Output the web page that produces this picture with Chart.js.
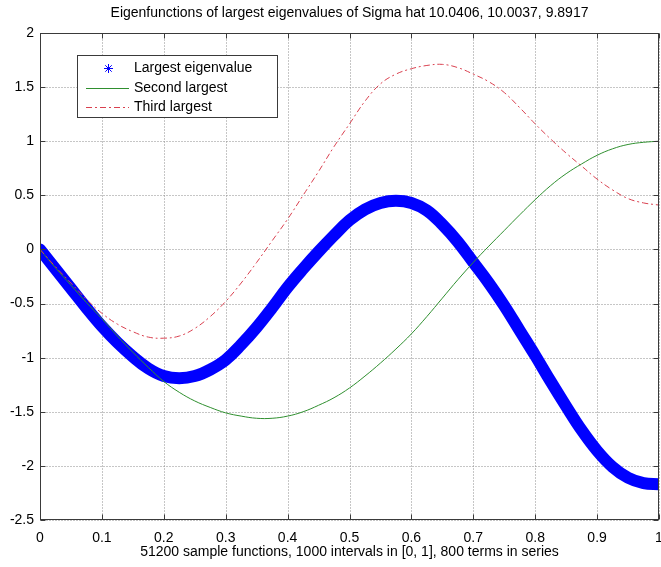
<!DOCTYPE html>
<html><head><meta charset="utf-8">
<script src="https://cdn.jsdelivr.net/npm/chart.js@4.4.1/dist/chart.umd.min.js"></script>
<style>html,body{margin:0;padding:0;background:#fff;}canvas{display:block;}</style>
</head><body>
<canvas id="c" width="661" height="567"></canvas>
<script>
const titleText = 'Eigenfunctions of largest eigenvalues of Sigma hat 10.0406, 10.0037, 9.8917';
const xAxisTitle = '51200 sample functions, 1000 intervals in [0, 1], 800 terms in series';
const seriesNames = ['Largest eigenvalue', 'Second largest', 'Third largest'];

const xValues = [0,0.025,0.05,0.075,0.1,0.125,0.15,0.175,0.2,0.225,0.25,0.275,0.3,0.325,0.35,0.375,0.4,0.425,0.45,0.475,0.5,0.525,0.55,0.575,0.6,0.625,0.65,0.675,0.7,0.725,0.75,0.775,0.8,0.825,0.85,0.875,0.9,0.925,0.95,0.975,1];
const largest = [0,-0.18,-0.36,-0.54,-0.71,-0.86,-0.99,-1.10,-1.17,-1.19,-1.17,-1.11,-1.02,-0.88,-0.72,-0.54,-0.35,-0.18,-0.02,0.13,0.27,0.37,0.43,0.45,0.43,0.36,0.23,0.07,-0.12,-0.31,-0.52,-0.75,-0.98,-1.22,-1.45,-1.67,-1.86,-2.01,-2.11,-2.16,-2.17];
const second  = [0,-0.17,-0.33,-0.49,-0.64,-0.80,-0.95,-1.09,-1.22,-1.32,-1.40,-1.46,-1.51,-1.54,-1.56,-1.56,-1.54,-1.50,-1.44,-1.37,-1.28,-1.17,-1.05,-0.92,-0.78,-0.62,-0.45,-0.28,-0.12,0.03,0.175,0.32,0.46,0.59,0.70,0.79,0.87,0.93,0.97,0.99,1.0];
const third   = [0,-0.16,-0.31,-0.46,-0.59,-0.69,-0.76,-0.81,-0.82,-0.80,-0.73,-0.62,-0.48,-0.31,-0.12,0.08,0.28,0.50,0.72,0.95,1.16,1.37,1.53,1.62,1.67,1.70,1.71,1.68,1.62,1.55,1.45,1.31,1.16,1.02,0.89,0.77,0.65,0.55,0.47,0.43,0.41];

const xTickLabels = ['0','0.1','0.2','0.3','0.4','0.5','0.6','0.7','0.8','0.9','1'];
const yTickLabels = ['-2.5','-2','-1.5','-1','-0.5','0','0.5','1','1.5','2'];

const FONT = '"Liberation Sans", Arial, sans-serif';
const BLUE = '#0000ff', GREEN = '#2f8f2f', RED = '#d9404f';
const RED_DASH = [6,3,2,3];

function pts(xa, ya){ return xa.map((x,i)=>({x:x, y:ya[i]})); }

function drawStar(ctx, x, y, r){
  ctx.beginPath();
  ctx.moveTo(x-r,y); ctx.lineTo(x+r,y);
  ctx.moveTo(x,y-r); ctx.lineTo(x,y+r);
  const d = r*0.72;
  ctx.moveTo(x-d,y-d); ctx.lineTo(x+d,y+d);
  ctx.moveTo(x-d,y+d); ctx.lineTo(x+d,y-d);
  ctx.stroke();
}

function edges(a){
  return { L: Math.round(a.left)+0.5, R: Math.round(a.right)-0.5, T: Math.round(a.top)+0.5, B: Math.round(a.bottom)-0.5 };
}

const matlabPlugin = {
  id: 'matlab',
  beforeDatasetsDraw(chart){
    const ctx = chart.ctx, e = edges(chart.chartArea);
    const xs = chart.scales.x, ys = chart.scales.y;
    ctx.save();
    ctx.strokeStyle = '#8c8c8c'; ctx.lineWidth = 1; ctx.setLineDash([1,2]);
    ctx.beginPath();
    xs.ticks.forEach(t=>{
      const px = Math.round(xs.getPixelForValue(t.value))+0.5;
      ctx.moveTo(px, e.T); ctx.lineTo(px, e.B);
    });
    ys.ticks.forEach(t=>{
      const py = Math.round(ys.getPixelForValue(t.value))+0.5;
      ctx.moveTo(e.L, py); ctx.lineTo(e.R, py);
    });
    ctx.stroke();
    ctx.restore();
  },
  afterDraw(chart){
    const ctx = chart.ctx, e = edges(chart.chartArea), a = chart.chartArea;
    const xs = chart.scales.x, ys = chart.scales.y;
    const {L,R,T,B} = e;
    ctx.save();
    ctx.strokeStyle = '#3a3a3a'; ctx.lineWidth = 1; ctx.setLineDash([]);
    ctx.strokeRect(L, T, R-L, B-T);
    ctx.beginPath();
    xs.ticks.forEach(t=>{
      const px = Math.round(xs.getPixelForValue(t.value))+0.5;
      ctx.moveTo(px,B); ctx.lineTo(px,B-5);
      ctx.moveTo(px,T); ctx.lineTo(px,T+5);
    });
    ys.ticks.forEach(t=>{
      const py = Math.round(ys.getPixelForValue(t.value))+0.5;
      ctx.moveTo(L,py); ctx.lineTo(L+5,py);
      ctx.moveTo(R,py); ctx.lineTo(R-5,py);
    });
    ctx.stroke();
    ctx.fillStyle = '#000';
    ctx.font = '14px ' + FONT;
    ctx.textAlign = 'center'; ctx.textBaseline = 'middle';
    ctx.fillText(titleText, (a.left+a.right)/2, 13);
    const bx = 77.5, by = 55.5, bw = 200, bh = 62;
    ctx.fillStyle = '#fff';
    ctx.fillRect(bx, by, bw, bh);
    ctx.strokeStyle = '#3a3a3a';
    ctx.strokeRect(bx, by, bw, bh);
    const rows = [68, 88, 107];
    ctx.strokeStyle = BLUE; ctx.lineWidth = 1;
    drawStar(ctx, 108.5, rows[0]+0.5, 4.5);
    ctx.strokeStyle = GREEN;
    ctx.beginPath(); ctx.moveTo(86, rows[1]+0.5); ctx.lineTo(129, rows[1]+0.5); ctx.stroke();
    ctx.strokeStyle = RED; ctx.setLineDash(RED_DASH);
    ctx.beginPath(); ctx.moveTo(86, rows[2]+0.5); ctx.lineTo(129, rows[2]+0.5); ctx.stroke();
    ctx.setLineDash([]);
    ctx.fillStyle = '#000'; ctx.textAlign = 'left'; ctx.textBaseline = 'middle';
    seriesNames.forEach((n,i)=>ctx.fillText(n, 134, rows[i]+0.5));
    ctx.restore();
  }
};

new Chart(document.getElementById('c'), {
  type: 'line',
  data: {
    datasets: [
      { label: seriesNames[0], data: pts(xValues, largest), borderColor: BLUE, backgroundColor: BLUE,
        borderWidth: 12, pointRadius: 0, pointStyle: 'star', tension: 0.4, borderCapStyle: 'round', borderJoinStyle: 'round', order: 3 },
      { label: seriesNames[1], data: pts(xValues, second), borderColor: GREEN, borderWidth: 1, pointRadius: 0, tension: 0.4, order: 2 },
      { label: seriesNames[2], data: pts(xValues, third), borderColor: RED, borderWidth: 1, pointRadius: 0, tension: 0.4, borderDash: RED_DASH, order: 1 }
    ]
  },
  options: {
    responsive: false, animation: false, devicePixelRatio: 1,
    layout: { padding: { top: 33, right: 2, left: 0, bottom: 0 } },
    plugins: { legend: { display: false }, tooltip: { enabled: false }, title: { display: false } },
    scales: {
      x: {
        type: 'linear', min: 0, max: 1,
        ticks: { stepSize: 0.1, padding: 10, color: '#000', font: { family: FONT, size: 14 }, maxRotation: 0, autoSkip: false,
                 callback: (v, i) => xTickLabels[i] },
        grid: { display: false, drawTicks: false, tickLength: 0 },
        border: { display: false },
        title: { display: true, text: xAxisTitle, color: '#000', font: { family: FONT, size: 14 }, padding: { top: 0, bottom: 6 } },
        afterFit: s => { s.height = 47; s.paddingLeft = 0; s.paddingRight = 0; }
      },
      y: {
        type: 'linear', min: -2.5, max: 2,
        ticks: { stepSize: 0.5, padding: 6, color: '#000', font: { family: FONT, size: 14 }, autoSkip: false,
                 callback: (v, i) => yTickLabels[i] },
        grid: { display: false, drawTicks: false, tickLength: 0 },
        border: { display: false },
        afterFit: s => { s.width = 40; s.paddingTop = 0; s.paddingBottom = 0; }
      }
    }
  },
  plugins: [matlabPlugin]
});
</script>
</body></html>
